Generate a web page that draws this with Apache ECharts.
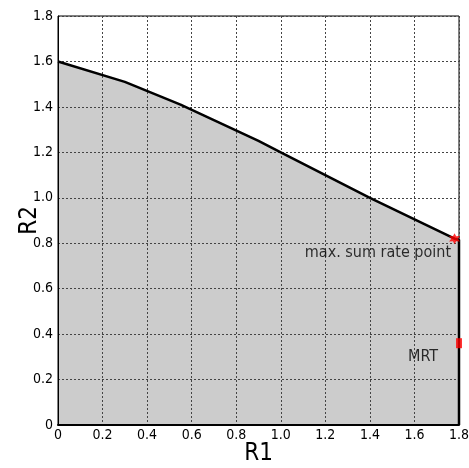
<!DOCTYPE html>
<html>
<head>
<meta charset="utf-8">
<script src="https://cdn.jsdelivr.net/npm/echarts@6/dist/echarts.min.js"></script>
<style>html,body{margin:0;padding:0;background:#fff}#c{width:469px;height:468px}</style>
</head>
<body>
<div id="c"></div>
<script>
// Rate region boundary (R1, R2)
const boundaryR1 = [0, 0.30, 0.55, 0.90, 1.00, 1.40, 1.78, 1.80, 1.80];
const boundaryR2 = [1.60, 1.51, 1.41, 1.25, 1.20, 1.00, 0.82, 0.815, 0];
// Marked operating points
const sumRatePoint = [1.78, 0.82];
const mrtPoint = [1.80, 0.36];
const axisTicks = [0, 0.2, 0.4, 0.6, 0.8, 1.0, 1.2, 1.4, 1.6, 1.8];

const font = '"DejaVu Sans Condensed", "DejaVu Sans", sans-serif';
const boundary = boundaryR1.map((r1, i) => [r1, boundaryR2[i]]);
const fmt = v => (v === 0 ? '0' : v.toFixed(1));

const chart = echarts.init(document.getElementById('c'), null, {renderer: 'canvas'});
const axisCommon = {
  type: 'value', min: 0, max: 1.8, interval: 0.2, z: 3,
  axisLine: {show: true, onZero: false, lineStyle: {color: '#000', width: 1}},
  axisTick: {show: false},
  splitLine: {show: true, lineStyle: {color: '#444', type: [2, 2], width: 1}},
  axisLabel: {color: '#000', fontFamily: font, fontSize: 14, formatter: fmt},
  nameLocation: 'middle',
  nameMoveOverlap: false,
  nameTextStyle: {color: '#000', fontFamily: font, fontSize: 24}
};
chart.setOption({
  animation: false,
  grid: {left: 58, right: 10, top: 16, bottom: 43, containLabel: false, outerBoundsMode: 'none',
         show: true, borderColor: '#000', borderWidth: 1, backgroundColor: 'transparent'},
  xAxis: Object.assign({}, axisCommon, {
    name: 'R1', nameGap: 17,
    axisLine: {show: true, onZero: false, lineStyle: {color: '#000', width: 2}},
    axisLabel: Object.assign({}, axisCommon.axisLabel, {margin: 3})
  }),
  yAxis: Object.assign({}, axisCommon, {
    name: 'R2', nameGap: 16,
    axisLabel: Object.assign({}, axisCommon.axisLabel, {margin: 5})
  }),
  series: [
    {
      // shaded achievable region
      type: 'line', data: boundary, symbol: 'none', z: 2,
      lineStyle: {width: 0},
      areaStyle: {color: '#cccccc', opacity: 1}
    },
    {
      // region boundary drawn above the grid
      type: 'line', data: boundary, symbol: 'none', z: 4,
      lineStyle: {color: '#000', width: 2.5}
    },
    {
      type: 'scatter', data: [sumRatePoint], z: 5,
      symbol: 'path://M0,-10 L2.6,-4.5 L8.7,-5 L5.2,0 L8.7,5 L2.6,4.5 L0,10 L-2.6,4.5 L-8.7,5 L-5.2,0 L-8.7,-5 L-2.6,-4.5 Z',
      symbolSize: 11,
      itemStyle: {color: '#ff0000'},
      label: {show: true, position: 'left', offset: [7, 14], formatter: 'max. sum rate point',
              color: '#000', fontFamily: font, fontSize: 16}
    },
    {
      type: 'scatter', data: [mrtPoint], z: 5,
      symbol: 'rect', symbolSize: [6, 10],
      itemStyle: {color: '#ff0000'},
      label: {show: true, position: 'left', offset: [-13, 14], formatter: 'MRT',
              color: '#000', fontFamily: font, fontSize: 16}
    }
  ]
});
</script>
</body>
</html>
